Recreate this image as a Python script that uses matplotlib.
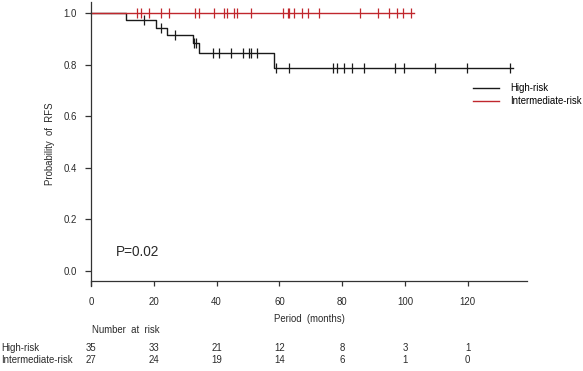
import numpy as np
import matplotlib
matplotlib.use("Agg")
import matplotlib.pyplot as plt
from matplotlib.lines import Line2D

plt.rcParams['font.family'] = ['Liberation Sans', 'DejaVu Sans']
plt.rcParams['font.size'] = 6.9

# ---------------------------------------------------------
# Data
# ---------------------------------------------------------
high_event_times = [11.0, 20.8, 24.3, 32.6, 34.4, 58.4]
high_event_surv = [0.971, 0.943, 0.914, 0.885, 0.846, 0.786]
high_end = 134.4
high_censor = [17.0, 22.3, 26.7, 32.9, 33.3, 38.9, 40.9, 44.5, 48.5, 50.4, 51.0,
               52.9, 58.9, 63.2, 77.2, 78.5, 80.7, 83.2, 87.0, 96.8, 99.6, 109.6,
               119.6, 133.4]

inter_end = 102.9
inter_censor = [14.7, 16.0, 18.5, 22.3, 24.7, 33.2, 34.5, 39.3, 42.5, 43.2, 45.4,
                46.4, 50.8, 61.2, 62.6, 63.2, 64.6, 67.1, 69.2, 72.6, 85.7, 91.5,
                95.0, 97.4, 99.3, 101.8]

risk_times = [0, 20, 40, 60, 80, 100, 120]
risk_high = [35, 33, 21, 12, 8, 3, 1]
risk_inter = [27, 24, 19, 14, 6, 1, 0]

BLACK = '#1a1a1a'
RED = '#c0272d'
TXT = '#2a2a2a'


def km_steps(event_times, event_surv, end):
    t = np.concatenate([[0], event_times, [end]])
    s = np.concatenate([[1.0], event_surv, [event_surv[-1] if len(event_surv) else 1.0]])
    return t, s


def surv_at(times, event_times, event_surv):
    out = []
    for c in times:
        s = 1.0
        for et, es in zip(event_times, event_surv):
            if et <= c:
                s = es
        out.append(s)
    return np.array(out)


W, H = 583, 371
fig = plt.figure(figsize=(W / 100, H / 100), dpi=100)

# axes placed in pixel terms: x px = 91 + 3.14*m ; y px = 271 - 258*v
ax_l, ax_r, ax_t, ax_b = 85, 530, 2, 286
ax = fig.add_axes([ax_l / W, 1 - ax_b / H, (ax_r - ax_l) / W, (ax_b - ax_t) / H])
ax.set_xlim((ax_l - 91) / 3.14, (ax_r - 91) / 3.14)
ax.set_ylim((271 - ax_b) / 258, (271 - ax_t) / 258)

# curves
t, s = km_steps(high_event_times, high_event_surv, high_end)
ax.step(t, s, where='post', color=BLACK, lw=1.0)
ax.plot(high_censor, surv_at(high_censor, high_event_times, high_event_surv),
        ls='none', marker='|', ms=6.5, mew=0.9, color=BLACK)

t2, s2 = km_steps([], [], inter_end)
ax.step(t2, s2, where='post', color=RED, lw=1.0)
ax.plot(inter_censor, np.ones(len(inter_censor)),
        ls='none', marker='|', ms=6.5, mew=0.9, color=RED)

# spines / ticks
for side in ['top', 'right']:
    ax.spines[side].set_visible(False)
ax.spines['left'].set_position(('data', 0))
ax.spines['bottom'].set_position(('data', (271 - 281) / 258))
ax.spines['bottom'].set_bounds(0, (527 - 91) / 3.14)
ax.spines['left'].set_color('#333333')
ax.spines['bottom'].set_color('#333333')
ax.spines['left'].set_linewidth(0.9)
ax.spines['bottom'].set_linewidth(0.9)

ax.set_xticks([0, 20, 40, 60, 80, 100, 120])
ax.set_yticks([0.0, 0.2, 0.4, 0.6, 0.8, 1.0])
ax.set_yticklabels(['0.0', '0.2', '0.4', '0.6', '0.8', '1.0'])
ax.tick_params(axis='y', length=4.3, width=0.9, pad=6, colors='#333333', labelcolor=TXT)
ax.tick_params(axis='x', length=3.5, width=0.9, pad=8, colors='#333333', labelcolor=TXT)

ax.set_ylabel('Probability  of  RFS', color=TXT, labelpad=6)
fig.text(309 / W, 1 - 319 / H, 'Period  (months)', ha='center', va='center', color=TXT)

ax.text((116 - 91) / 3.14, (271 - 252) / 258, 'P=0.02', fontsize=9.8,
        ha='left', va='center', color=TXT)

# legend
handles = [Line2D([], [], color=BLACK, lw=1.0), Line2D([], [], color=RED, lw=1.0)]
fig.legend(handles, ['High-risk', 'Intermediate-risk'], loc='upper left',
           bbox_to_anchor=(473 / W, 1 - 83 / H), frameon=False, borderpad=0,
           handlelength=2.7, handletextpad=1.2, labelspacing=0.3, borderaxespad=0)

# number at risk table
fig.text(92 / W, 1 - 330 / H, 'Number  at  risk', ha='left', va='center', color=TXT)
fig.text(1 / W, 1 - 348 / H, 'High-risk', ha='left', va='center', color=TXT)
fig.text(1 / W, 1 - 360 / H, 'Intermediate-risk', ha='left', va='center', color=TXT)
for tm, a, b in zip(risk_times, risk_high, risk_inter):
    xp = (91 + 3.14 * tm) / W
    fig.text(xp, 1 - 348 / H, str(a), ha='center', va='center', color=TXT)
    fig.text(xp, 1 - 360 / H, str(b), ha='center', va='center', color=TXT)

fig.savefig('out.png', dpi=100)
